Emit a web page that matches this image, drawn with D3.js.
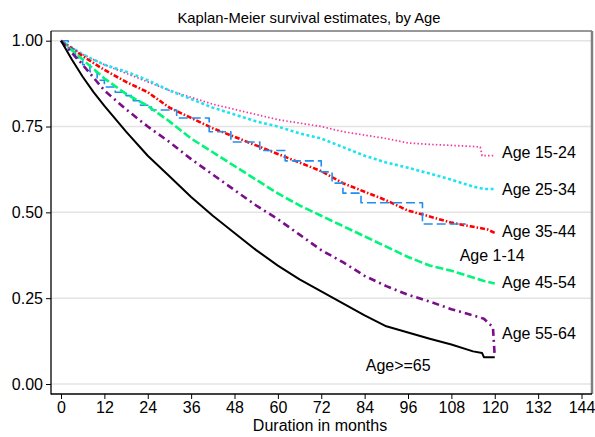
<!DOCTYPE html>
<html>
<head>
<meta charset="utf-8">
<script src="https://cdn.jsdelivr.net/npm/d3@7"></script>
<style>
  body { margin: 0; background: #fff; }
  svg { display: block; font-family: "Liberation Sans", Arial, sans-serif; }
</style>
</head>
<body>
<div id="chart"></div>
<script>
// survival estimates: [month, survival]
const age1_14 = [[0,1],[2,0.975],[4,0.95],[6,0.93],[8,0.91],[10,0.885],[12,0.865],[15,0.85],[18,0.84],[20,0.825],[22,0.812],[25,0.798],[32,0.775],[41,0.735],[47,0.705],[55,0.68],[62,0.65],[72,0.618],[75,0.585],[78,0.556],[83,0.528],[100,0.466],[112,0.466]];
const age15_24 = [[0,1],[6,0.96],[12,0.93],[18,0.905],[24,0.88],[30,0.855],[36,0.835],[42,0.815],[48,0.8],[54,0.785],[60,0.77],[66,0.76],[72,0.75],[78,0.735],[84,0.725],[90,0.715],[96,0.702],[102,0.698],[108,0.695],[114,0.692],[116,0.69],[116.5,0.665],[120,0.665]];
const age25_34 = [[0,1],[6,0.96],[12,0.93],[18,0.91],[24,0.885],[30,0.855],[36,0.83],[42,0.805],[48,0.785],[54,0.765],[60,0.75],[66,0.73],[72,0.715],[78,0.69],[84,0.665],[90,0.645],[96,0.63],[102,0.613],[108,0.595],[114,0.575],[117,0.568],[120,0.568]];
const age35_44 = [[0,1],[6,0.955],[12,0.915],[18,0.88],[24,0.85],[30,0.805],[36,0.775],[42,0.745],[48,0.72],[54,0.695],[60,0.67],[66,0.645],[72,0.62],[78,0.585],[84,0.56],[90,0.535],[96,0.505],[102,0.488],[108,0.47],[114,0.458],[118,0.45],[120,0.44]];
const age45_54 = [[0,1],[6,0.945],[12,0.89],[18,0.845],[24,0.81],[30,0.765],[36,0.715],[42,0.675],[48,0.635],[54,0.595],[60,0.555],[66,0.52],[72,0.49],[78,0.46],[84,0.43],[90,0.4],[96,0.37],[102,0.345],[108,0.33],[114,0.31],[117,0.3],[120,0.293]];
const age55_64 = [[0,1],[6,0.93],[12,0.855],[18,0.8],[24,0.75],[30,0.705],[36,0.655],[42,0.61],[48,0.565],[54,0.52],[60,0.48],[66,0.435],[72,0.39],[78,0.355],[84,0.315],[90,0.285],[96,0.26],[102,0.24],[108,0.218],[114,0.2],[117,0.19],[119.5,0.165],[120,0.08]];
const age65plus = [[0,1],[3,0.945],[6,0.895],[9,0.85],[12,0.81],[18,0.735],[24,0.665],[30,0.605],[36,0.545],[42,0.49],[48,0.44],[54,0.39],[60,0.345],[66,0.305],[72,0.27],[78,0.235],[84,0.2],[90,0.168],[96,0.15],[102,0.132],[108,0.115],[114,0.095],[116.5,0.09],[117,0.078],[120,0.078]];

const xTicks = [0,12,24,36,48,60,72,84,96,108,120,132,144];
const yTicks = [0,0.25,0.5,0.75,1];

const W = 595, H = 437;
const box = {left: 51, right: 591, top: 31, bottom: 394};

const svg = d3.select('#chart').append('svg')
    .attr('width', W)
    .attr('height', H);

const x = d3.scaleLinear().domain([0, 144]).range([61, 581.5]);
const y = d3.scaleLinear().domain([0, 1]).range([384, 40.7]);

// gridlines
svg.append('g').selectAll('line')
    .data(yTicks)
    .enter().append('line')
    .attr('x1', box.left).attr('x2', box.right)
    .attr('y1', d => y(d)).attr('y2', d => y(d))
    .attr('stroke', '#e3e3e3')
    .attr('stroke-width', 1.5);

// frame (top, right)
svg.append('line')
    .attr('x1', box.left).attr('x2', box.right + 1)
    .attr('y1', box.top).attr('y2', box.top)
    .attr('stroke', '#333').attr('stroke-width', 1.2);
svg.append('line')
    .attr('x1', box.right + 1).attr('x2', box.right + 1)
    .attr('y1', box.top).attr('y2', box.bottom)
    .attr('stroke', '#808080').attr('stroke-width', 2.5);

// curves
const series = [
    {data: age15_24, color: '#f2389f', width: 1.7, dash: '1.5,2.2'},
    {data: age25_34, color: '#1fe3f2', width: 2.6, dash: '3,2.5'},
    {data: age35_44, color: '#ff0000', width: 2.6, dash: '5,2,1.5,2'},
    {data: age1_14, color: '#1e8ff0', width: 1.6, dash: '9,4', step: true},
    {data: age45_54, color: '#00f57a', width: 2.6, dash: '8,3'},
    {data: age55_64, color: '#7a0d8a', width: 2.6, dash: '7,4,2,4'},
    {data: age65plus, color: '#000000', width: 2, dash: null}
];

const line = d3.line().x(d => x(d[0])).y(d => y(d[1]));
const stepLine = d3.line().x(d => x(d[0])).y(d => y(d[1])).curve(d3.curveStepAfter);

svg.append('g').selectAll('path')
    .data(series)
    .enter().append('path')
    .attr('d', d => (d.step ? stepLine : line)(d.data))
    .attr('fill', 'none')
    .attr('stroke', d => d.color)
    .attr('stroke-width', d => d.width)
    .attr('stroke-dasharray', d => d.dash)
    .attr('stroke-linejoin', 'round');

// axes
const yAxis = svg.append('g')
    .attr('transform', `translate(${box.left},0)`)
    .call(d3.axisLeft(y).tickValues(yTicks).tickFormat(d3.format('.2f')).tickSize(5).tickSizeOuter(0));
yAxis.select('.domain').remove();
svg.append('line')
    .attr('x1', box.left).attr('x2', box.left)
    .attr('y1', box.top).attr('y2', box.bottom + 0.5)
    .attr('stroke', '#000').attr('stroke-width', 1.3);

const xAxis = svg.append('g')
    .attr('transform', `translate(0,${box.bottom})`)
    .call(d3.axisBottom(x).tickValues(xTicks).tickSize(5).tickSizeOuter(0));
xAxis.select('.domain').remove();
svg.append('line')
    .attr('x1', box.left).attr('x2', box.right + 1)
    .attr('y1', box.bottom).attr('y2', box.bottom)
    .attr('stroke', '#000').attr('stroke-width', 1.3);

svg.selectAll('.tick line').attr('stroke', '#000');
svg.selectAll('.tick text')
    .attr('fill', '#000')
    .style('font-family', '"Liberation Sans", Arial, sans-serif')
    .style('font-size', '16px');
yAxis.selectAll('.tick text').attr('x', -8);
xAxis.selectAll('.tick text').attr('y', 8);

// titles
svg.append('text')
    .attr('x', 309).attr('y', 23)
    .attr('text-anchor', 'middle')
    .style('font-size', '14.8px')
    .text('Kaplan-Meier survival estimates, by Age');

svg.append('text')
    .attr('x', 320).attr('y', 431)
    .attr('text-anchor', 'middle')
    .style('font-size', '16px')
    .text('Duration in months');

// curve labels
const labels = [
    {text: 'Age 15-24', m: 122, v: 0.676},
    {text: 'Age 25-34', m: 122, v: 0.568},
    {text: 'Age 35-44', m: 122, v: 0.444},
    {text: 'Age 1-14', m: 110.3, v: 0.376},
    {text: 'Age 45-54', m: 122, v: 0.295},
    {text: 'Age 55-64', m: 122, v: 0.146},
    {text: 'Age>=65', m: 84.3, v: 0.055}
];
svg.append('g').selectAll('text')
    .data(labels)
    .enter().append('text')
    .attr('x', d => x(d.m))
    .attr('y', d => y(d.v))
    .attr('dy', '0.35em')
    .style('font-size', '16px')
    .text(d => d.text);
</script>
</body>
</html>
